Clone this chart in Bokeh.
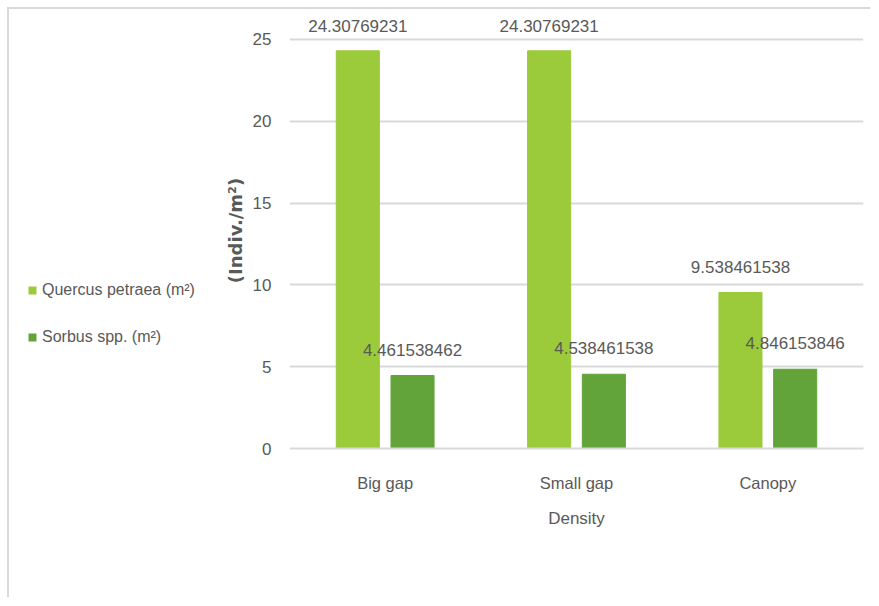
from bokeh.plotting import figure
from bokeh.models import FactorRange, Range1d, FixedTicker, ColumnDataSource, Legend, LegendItem
from bokeh.layouts import row
from bokeh.transform import dodge
from bokeh.core.properties import value
from bokeh.embed import file_html
from bokeh.resources import INLINE

categories = ["Big gap", "Small gap", "Canopy"]
quercus = [24.30769231, 24.30769231, 9.538461538]
sorbus = [4.461538462, 4.538461538, 4.846153846]
quercus_labels = ["24.30769231", "24.30769231", "9.538461538"]
sorbus_labels = ["4.461538462", "4.538461538", "4.846153846"]
y_ticks = [0, 5, 10, 15, 20, 25]
series_names = ["Quercus petraea (m\u00b2)", "Sorbus spp. (m\u00b2)"]

src = ColumnDataSource(dict(cat=categories, q=quercus, s=sorbus,
                            ql=quercus_labels, sl=sorbus_labels))

FONT = "Liberation Sans"
TXT = "#595959"
GRID = "#d9d9d9"
C_Q = "#9bca3a"
C_S = "#62a33a"

# ---- main chart ----
p = figure(x_range=FactorRange(*categories, range_padding=0),
           y_range=Range1d(0, 26.65),
           width=661, height=588,
           output_backend="svg", toolbar_location=None,
           min_border_left=80, min_border_right=7,
           min_border_top=3, min_border_bottom=149)
p.outline_line_color = None
p.background_fill_color = "white"
p.border_fill_color = "white"

bw = 0.225
off = 0.143
p.vbar(x=dodge("cat", -off, range=p.x_range), top="q", width=bw, source=src, color=C_Q)
p.vbar(x=dodge("cat", off, range=p.x_range), top="s", width=bw, source=src, color=C_S)

p.text(x=dodge("cat", -off, range=p.x_range), y="q", text="ql", source=src,
       y_offset=-25, text_align="center", text_baseline="middle",
       text_font=value(FONT), text_font_size="17px", text_color=TXT)
p.text(x=dodge("cat", off, range=p.x_range), y="s", text="sl", source=src,
       y_offset=-26, text_align="center", text_baseline="middle",
       text_font=value(FONT), text_font_size="17px", text_color=TXT)

# y axis
p.yaxis.ticker = FixedTicker(ticks=y_ticks)
p.yaxis.axis_line_color = None
p.yaxis.major_tick_line_color = None
p.yaxis.minor_tick_line_color = None
p.yaxis.major_label_text_font = FONT
p.yaxis.major_label_text_font_size = "17px"
p.yaxis.major_label_text_color = TXT
p.yaxis.major_label_standoff = 12
p.yaxis.axis_label = "(Indiv./m\u00b2)"
p.yaxis.axis_label_text_font = "DejaVu Sans"
p.yaxis.axis_label_text_font_style = "bold"
p.yaxis.axis_label_text_font_size = "18px"
p.yaxis.axis_label_text_color = TXT
p.yaxis.axis_label_standoff = 4

p.ygrid.grid_line_color = GRID
p.ygrid.grid_line_width = 2
p.xgrid.grid_line_color = None

# x axis
p.xaxis.axis_line_color = GRID
p.xaxis.axis_line_width = 2
p.xaxis.major_tick_line_color = None
p.xaxis.minor_tick_line_color = None
p.xaxis.major_label_text_font = FONT
p.xaxis.major_label_text_font_size = "16.5px"
p.xaxis.major_label_text_color = TXT
p.xaxis.major_label_standoff = 19
p.xaxis.axis_label = "Density"
p.xaxis.axis_label_text_font = FONT
p.xaxis.axis_label_text_font_style = "normal"
p.xaxis.axis_label_text_font_size = "17px"
p.xaxis.axis_label_text_color = TXT
p.xaxis.axis_label_standoff = 14

# ---- legend panel on the left ----
pl = figure(width=200, height=588, x_range=Range1d(0, 1), y_range=Range1d(0, 1),
            output_backend="svg", toolbar_location=None,
            min_border_left=0, min_border_right=0, min_border_top=0, min_border_bottom=0)
pl.axis.visible = False
pl.grid.visible = False
pl.outline_line_color = None
pl.border_fill_color = "white"
r_q = pl.vbar(x=[0.5], top=[0.5], width=0.1, fill_color=C_Q, line_color=None, visible=False)
r_s = pl.vbar(x=[0.5], top=[0.5], width=0.1, fill_color=C_S, line_color=None, visible=False)
lg = Legend(items=[LegendItem(label=series_names[0], renderers=[r_q]),
                   LegendItem(label=series_names[1], renderers=[r_s])],
            location=(18, 100))
lg.padding = 0
lg.margin = 0
lg.spacing = 25
lg.border_line_color = None
lg.background_fill_alpha = 0
lg.inactive_fill_alpha = 0
lg.glyph_width = 10
lg.glyph_height = 10
lg.label_height = 22
lg.label_standoff = 5
lg.label_text_font = FONT
lg.label_text_font_size = "16px"
lg.label_text_color = TXT
pl.add_layout(lg, "center")

layout = row(pl, p)
layout.styles = {"border-top": "2px solid #d9d9d9", "border-left": "2px solid #d9d9d9",
                 "margin-left": "7px", "margin-top": "7px"}

open("out.html", "w").write(file_html(layout, INLINE))
